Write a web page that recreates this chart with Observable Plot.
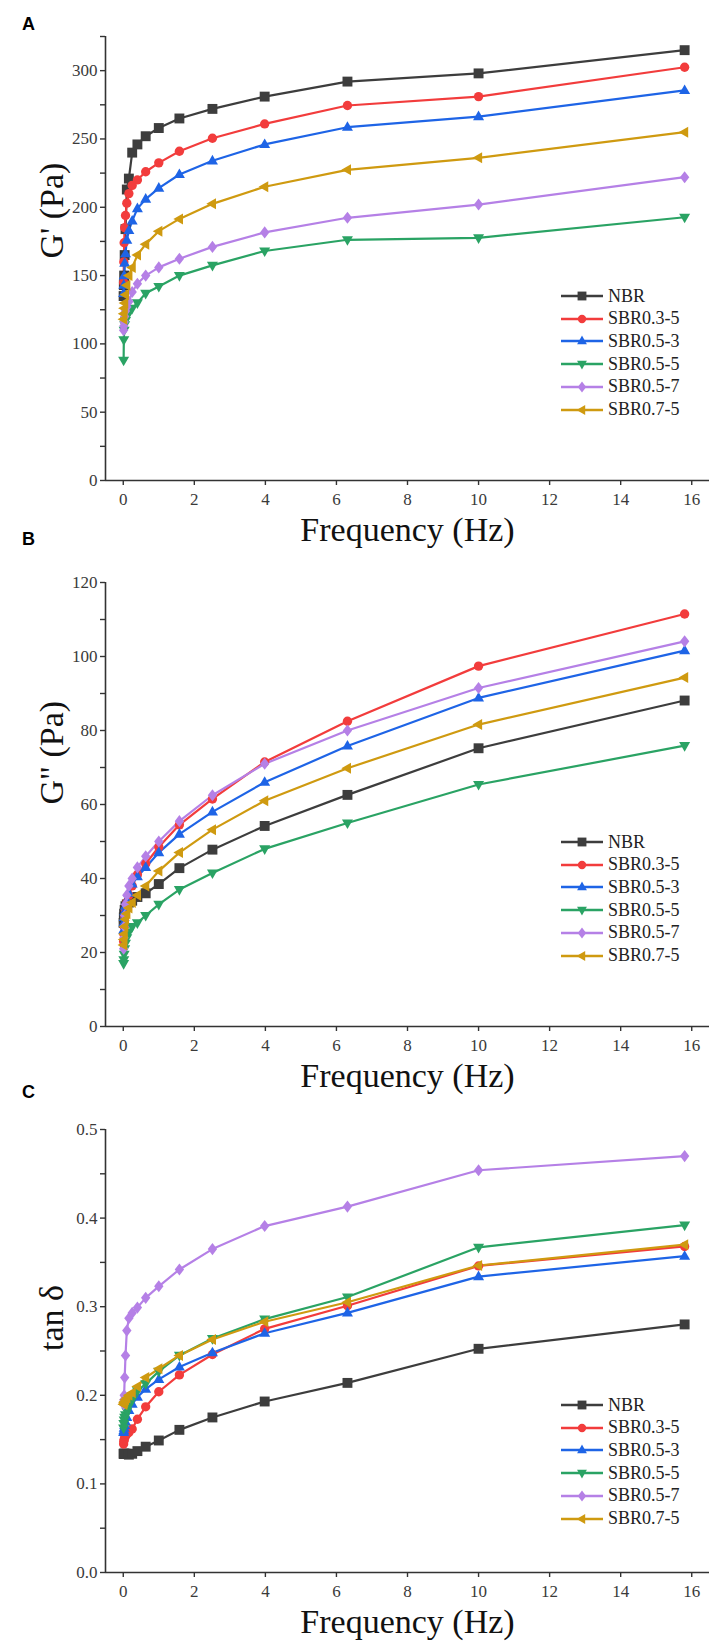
<!DOCTYPE html>
<html><head><meta charset="utf-8">
<script src="https://cdn.jsdelivr.net/npm/d3@7"></script>
<script src="https://cdn.jsdelivr.net/npm/@observablehq/plot@0.6"></script>
<style>
body{margin:0;background:#fff;}
#wrap{position:relative;width:714px;height:1652px;overflow:hidden;background:#fff;}
.panel{position:absolute;left:0;}
.panel svg{overflow:visible;}
#wrap svg text{font-family:"Liberation Serif","Times New Roman",serif !important;}
.tag{position:absolute;left:22px;font-family:"Liberation Sans",Arial,sans-serif;font-weight:bold;font-size:18px;color:#000;line-height:1;}
.lrow{position:absolute;left:561px;height:22px;display:flex;align-items:center;font-family:"Liberation Serif","Times New Roman",serif;font-size:18px;color:#222;white-space:nowrap;}
.lrow svg{margin-right:5px;}
</style></head><body><div id="wrap"></div>
<script>
// Frequency points (Hz)
const freq = [0.01, 0.0158, 0.0251, 0.0398, 0.0631, 0.1, 0.158, 0.251, 0.398, 0.631, 1, 1.58, 2.51, 3.98, 6.31, 10, 15.8];
const seriesNames = ["NBR", "SBR0.3-5", "SBR0.5-3", "SBR0.5-5", "SBR0.5-7", "SBR0.7-5"];
const seriesColors = ["#3d3d3d", "#f23c3c", "#1e64e6", "#2aa364", "#b580e6", "#cf9a10"];

// Panel A: G' (Pa)
const gpNBR  = [135, 143, 150, 165, 184, 213, 221, 240, 246, 252, 258, 265, 272, 281, 292, 298, 315];
const gpS035 = [145, 160, 174, 185, 194, 203, 210, 216, 220, 226, 232.5, 241, 250.5, 261, 274.5, 281, 302.5];
const gpS053 = [137, 143, 150, 159, 166, 176, 183, 190, 199, 206, 214, 224, 234, 246, 258.6, 266.4, 285.5];
const gpS055 = [88, 103, 110, 114, 117, 120, 123, 126, 130, 137, 142, 150, 157.5, 168, 176.2, 177.6, 192.7];
const gpS057 = [110, 113, 116, 120, 124, 127, 131, 138, 144, 150, 156, 162.3, 171, 181.6, 192.3, 202, 222];
const gpS075 = [118, 122, 126, 130, 136, 143, 150, 156, 165, 173, 182.5, 191.5, 202.5, 215, 227.4, 236.2, 255];

// Panel B: G'' (Pa)
const gppNBR  = [28, 29.5, 30.5, 31.5, 32.5, 33, 33.5, 34, 35, 36, 38.5, 42.8, 47.8, 54.2, 62.6, 75.2, 88.1];
const gppS035 = [23, 25, 27, 29.5, 31.5, 33.5, 35.5, 38, 41, 44, 48.5, 54.5, 61.5, 71.5, 82.5, 97.4, 111.5];
const gppS053 = [26, 28, 29.5, 31, 32.5, 34, 36, 38.5, 40.5, 43, 47, 52, 58, 66, 75.8, 88.8, 101.6];
const gppS055 = [17, 18, 19.5, 21, 22.5, 24, 25.5, 27, 28, 30, 33, 37, 41.5, 48, 55, 65.4, 75.9];
const gppS057 = [21, 24, 27, 30, 33, 35.5, 38, 40, 43, 46, 50, 55.5, 62.5, 71, 80, 91.5, 104.1];
const gppS075 = [22, 23.5, 25, 27, 29, 30.5, 32, 33.5, 35.5, 38, 42, 47, 53.2, 61, 69.8, 81.6, 94.3];

// Panel C: tan delta
const tdNBR  = [0.134, 0.134, 0.134, 0.134, 0.134, 0.134, 0.133, 0.134, 0.137, 0.142, 0.149, 0.161, 0.175, 0.193, 0.214, 0.2525, 0.28];
const tdS035 = [0.145, 0.148, 0.15, 0.152, 0.154, 0.156, 0.158, 0.162, 0.173, 0.187, 0.204, 0.223, 0.246, 0.275, 0.301, 0.346, 0.368];
const tdS053 = [0.158, 0.16, 0.163, 0.166, 0.17, 0.175, 0.183, 0.19, 0.198, 0.207, 0.218, 0.232, 0.248, 0.27, 0.293, 0.334, 0.357];
const tdS055 = [0.163, 0.168, 0.172, 0.175, 0.178, 0.182, 0.188, 0.195, 0.205, 0.213, 0.227, 0.245, 0.264, 0.286, 0.311, 0.367, 0.392];
const tdS057 = [0.19, 0.195, 0.2, 0.22, 0.245, 0.273, 0.287, 0.293, 0.299, 0.31, 0.323, 0.342, 0.365, 0.391, 0.413, 0.454, 0.47];
const tdS075 = [0.19, 0.19, 0.192, 0.193, 0.195, 0.197, 0.2, 0.203, 0.21, 0.22, 0.23, 0.245, 0.263, 0.283, 0.305, 0.3465, 0.37];

// Axis ticks
const xDomain = [-0.5, 16.5];
const xTicks = [0, 2, 4, 6, 8, 10, 12, 14, 16];
const aTicks = [0, 50, 100, 150, 200, 250, 300];
const aMinor = [25, 75, 125, 175, 225, 275, 325];
const bTicks = [0, 20, 40, 60, 80, 100, 120];
const bMinor = [10, 30, 50, 70, 90, 110];
const cTicks = [0, 0.1, 0.2, 0.3, 0.4, 0.5];
const cMinor = [0.05, 0.15, 0.25, 0.35, 0.45];

// marker shapes
function rr(s){ return Math.sqrt(s / Math.PI); }
const symSquare = {draw(c, s){ const h = rr(s) * 0.9; c.moveTo(-h, -h); c.lineTo(h, -h); c.lineTo(h, h); c.lineTo(-h, h); c.closePath(); }};
const symCircle = {draw(c, s){ const r = rr(s) * 0.85; c.moveTo(r, 0); c.arc(0, 0, r, 0, 2 * Math.PI); c.closePath(); }};
const symUp = {draw(c, s){ const r = rr(s); c.moveTo(0, -r * 1.1); c.lineTo(r, r * 0.65); c.lineTo(-r, r * 0.65); c.closePath(); }};
const symDown = {draw(c, s){ const r = rr(s); c.moveTo(0, r * 1.1); c.lineTo(r, -r * 0.65); c.lineTo(-r, -r * 0.65); c.closePath(); }};
const symDiamond = {draw(c, s){ const r = rr(s); c.moveTo(0, -r * 1.1); c.lineTo(r * 0.85, 0); c.lineTo(0, r * 1.1); c.lineTo(-r * 0.85, 0); c.closePath(); }};
const symLeft = {draw(c, s){ const r = rr(s); c.moveTo(-r * 1.1, 0); c.lineTo(r * 0.65, -r); c.lineTo(r * 0.65, r); c.closePath(); }};
const seriesSymbols = [symSquare, symCircle, symUp, symDown, symDiamond, symLeft];

const serif = '"Liberation Serif","Times New Roman",serif';
const axisColor = "#333";
const markR = 5.5;

function rowsFor(vals){ return freq.map((f, i) => ({f, v: vals[i]})); }

const panels = [
  {tag: "A", top: 0, height: 546, mb: 66, yLabel: "G' (Pa)", yDomain: [0, 325], yTicks: aTicks, yMinor: aMinor, fmt: d => String(d),
   data: [gpNBR, gpS035, gpS053, gpS055, gpS057, gpS075], legendTop: 296, tagBase: 29},
  {tag: "B", top: 546, height: 547, mb: 67, yLabel: 'G" (Pa)', yDomain: [0, 120], yTicks: bTicks, yMinor: bMinor, fmt: d => String(d),
   data: [gppNBR, gppS035, gppS053, gppS055, gppS057, gppS075], legendTop: 842, tagBase: 544},
  {tag: "C", top: 1093, height: 559, mb: 80, yLabel: "tan δ", yDomain: [0, 0.5], yTicks: cTicks, yMinor: cMinor, fmt: d => d.toFixed(1),
   data: [tdNBR, tdS035, tdS053, tdS055, tdS057, tdS075], legendTop: 1405, tagBase: 1097}
];

const wrap = document.getElementById("wrap");

panels.forEach(p => {
  const lines = p.data.map((vals, i) => Plot.line(rowsFor(vals), {x: "f", y: "v", stroke: seriesColors[i], strokeWidth: 2.2}));
  const dots = p.data.map((vals, i) => Plot.dot(rowsFor(vals), {x: "f", y: "v", r: markR, symbol: seriesSymbols[i], fill: seriesColors[i], stroke: "none"}));
  const chart = Plot.plot({
    width: 714, height: p.height,
    marginTop: 36, marginLeft: 105, marginRight: 5, marginBottom: p.mb,
    x: {domain: xDomain},
    y: {domain: p.yDomain},
    style: {fontFamily: "Liberation Serif, serif", overflow: "visible", background: "transparent"},
    marks: [
      ...lines,
      ...dots,
      Plot.ruleY([p.yDomain[0]], {stroke: axisColor, strokeWidth: 1.6}),
      Plot.ruleX([xDomain[0]], {stroke: axisColor, strokeWidth: 1.6}),
      Plot.axisX({ticks: xTicks, tickSize: 5, tickPadding: 7, fontSize: 17, fontFamily: serif, tickFormat: d => String(d), label: null, stroke: axisColor, fill: "#3a3a3a", strokeWidth: 1.4}),
      Plot.axisY({ticks: p.yTicks, tickSize: 5, tickPadding: 3, fontSize: 17, fontFamily: serif, tickFormat: p.fmt, label: null, stroke: axisColor, fill: "#3a3a3a", strokeWidth: 1.4}),
      Plot.axisY({ticks: p.yMinor, tickSize: 5, tickFormat: () => "", label: null, stroke: axisColor, strokeWidth: 1.4}),
      Plot.text(["Frequency (Hz)"], {frameAnchor: "bottom", dy: 60, fontSize: 34, fontFamily: serif, fill: "#111"}),
      Plot.text([p.yLabel], {frameAnchor: "left", dx: -53, rotate: -90, fontSize: 34, fontFamily: serif, fill: "#111"})
    ]
  });
  const holder = document.createElement("div");
  holder.className = "panel";
  holder.style.top = p.top + "px";
  holder.appendChild(chart);
  wrap.appendChild(holder);

  const tag = document.createElement("div");
  tag.className = "tag";
  tag.textContent = p.tag;
  tag.style.top = (p.tagBase - 14) + "px";
  wrap.appendChild(tag);

  seriesNames.forEach((name, i) => {
    const row = document.createElement("div");
    row.className = "lrow";
    row.style.top = (p.legendTop + i * 22.7 - 11) + "px";
    const sw = d3.create("svg").attr("width", 42).attr("height", 16);
    sw.append("line").attr("x1", 0).attr("x2", 42).attr("y1", 8).attr("y2", 8).attr("stroke", seriesColors[i]).attr("stroke-width", 2.6);
    const path = d3.path();
    seriesSymbols[i].draw(path, markR * markR * Math.PI * 0.8);
    sw.append("path").attr("d", path.toString()).attr("transform", "translate(21,8)").attr("fill", seriesColors[i]);
    row.appendChild(sw.node());
    const t = document.createElement("span");
    t.textContent = name;
    row.appendChild(t);
    wrap.appendChild(row);
  });
});
</script></body></html>
